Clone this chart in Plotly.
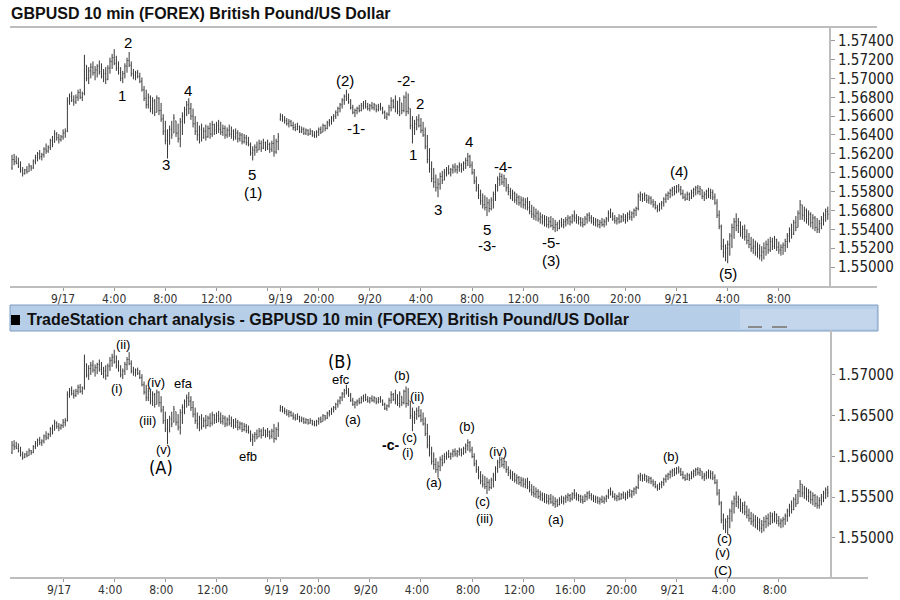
import pandas as pd
import plotly.graph_objects as go

TITLE = "GBPUSD 10 min (FOREX) British Pound/US Dollar"
HEADER = "TradeStation chart analysis - GBPUSD 10 min (FOREX) British Pound/US Dollar"
BASE = 1.5  # price lists below are in pips above 1.5000

# ---- Session 1: 2010-09-16 20:00 .. 2010-09-17 16:50 (10-minute bars) ----
s1_open = [605,614,612,610,607,602,599,603,601,607, 605,612,616,620,617,619,625,623,627,634,
           632,641,637,635,638,642,644,676,681,677, 675,680,685,680,684,714,700,708,712,706,
           709,713,707,702,705,699,711,718,722,716, 711,706,700,705,713,719,714,705,703,706,
           702,697,688,679,672,680,668,676,664,679, 666,657,644,634,630,646,642,655,642,636,
           654,660,667,672,668,660,652,644,640,646, 637,644,638,647,641,651,645,650,646,643,
           647,640,645,641,644,638,642,636,640,633, 637,632,630,621,624,627,624,631,626,632,
           627,630,625,631,622,633]
s1_high = [619,620,618,616,612,606,604,607,610,608, 614,619,622,624,621,627,631,629,636,639,
           645,643,641,640,646,647,680,684,686,682, 683,688,689,686,725,714,712,716,718,713,
           715,719,716,710,712,714,722,726,731,724, 718,712,708,716,722,728,718,710,708,709,
           706,701,692,688,684,682,680,678,682,680, 674,662,655,646,650,655,662,655,652,658,
           664,670,676,679,674,668,660,654,650,652, 648,651,650,653,655,652,654,656,654,651,
           650,648,651,649,646,647,645,643,642,641, 640,638,632,628,630,633,635,634,636,633,
           635,632,634,640,636,642]
s1_low = [603,608,609,605,600,596,598,599,601,602, 604,609,612,614,613,616,620,621,624,627,
          632,634,631,633,635,637,643,672,675,671, 673,676,678,676,682,697,694,700,703,698,
          701,704,700,696,694,698,705,710,714,708, 704,697,695,700,706,712,702,699,698,700,
          695,686,676,668,668,664,662,660,664,661, 654,640,630,615,630,636,642,638,632,627,
          640,652,660,662,656,648,640,634,631,633, 636,634,637,636,638,640,641,642,640,639,
          636,637,638,636,634,635,632,633,630,631, 629,628,618,613,618,621,624,622,625,623,
          624,621,622,617,620,624]
s1_close = [614,612,610,607,602,599,603,601,607,605, 612,616,620,617,619,625,623,627,634,630,
            641,637,635,638,642,644,676,681,677,675, 680,685,680,684,718,700,708,712,706,709,
            713,707,702,705,699,711,718,722,716,711, 706,700,705,713,719,714,705,703,706,702,
            697,688,679,672,680,668,676,664,679,666, 657,644,634,628,646,640,658,642,636,654,
            660,667,672,668,660,652,644,640,646,637, 644,638,647,641,651,645,650,646,643,647,
            640,645,641,644,638,642,636,640,633,637, 632,630,621,624,627,624,631,626,632,627,
            630,625,631,622,633,638]

# ---- Session 2: 2010-09-19 17:00 .. 2010-09-21 11:50 (10-minute bars) ----
s2_open = [657,660,656,655,652,654,650,648,646,649, 644,646,642,645,641,644,640,639,643,646,
           643,650,647,653,655,658,660,664,668,672, 677,681,679,675,669,664,666,668,666,671,
           673,670,668,671,669,672,667,670,668,664, 659,662,669,676,670,676,665,674,666,680,
           665,668,650,648,652,656,650,645,640,628, 614,604,594,590,584,588,596,592,600,603,
           600,603,606,603,606,608,604,610,613,617, 608,600,591,584,576,570,566,563,568,562,
           571,577,585,593,596,590,594,584,580,576, 578,571,574,568,571,566,569,563,559,556,
           554,557,551,553,548,550,545,548,544,542, 545,541,547,545,548,550,552,548,554,552,
           549,551,547,545,551,555,552,549,547,549, 545,547,545,548,551,557,554,551,549,551,
           548,553,550,553,556,553,557,560,562,575, 577,573,576,571,573,569,566,563,561,566,
           568,572,576,578,581,583,580,585,582,578, 574,572,577,573,579,582,584,580,582,575,
           577,580,576,579,574,568,555,543,522,515, 520,524,533,542,548,544,548,536,540,532,
           528,524,520,522,515,519,512,516,520,524, 518,527,522,529,521,518,521,523,527,533,
           539,535,547,542,557,566,555,560,551,556, 547,552,542,540,546,550,555,559]
s2_high = [663,662,660,658,657,656,654,652,653,650, 649,648,647,646,647,645,644,645,648,649,
           652,651,655,657,660,662,666,670,674,679, 683,688,684,678,672,668,670,672,674,676,
           677,674,673,675,674,672,673,674,670,666, 664,672,680,678,682,676,680,674,682,686,
           684,668,660,656,660,662,658,654,648,640, 626,612,605,598,594,600,602,604,606,608,
           605,609,610,608,611,610,612,616,621,619, 612,604,596,588,582,578,576,574,572,574,
           580,588,596,600,599,598,594,588,584,582, 580,578,576,575,574,573,574,570,566,564,
           562,560,558,556,555,554,553,554,552,550, 548,550,552,551,553,555,554,556,560,556,
           554,553,552,554,557,558,555,553,552,551, 550,552,551,553,560,562,558,555,553,556,
           555,557,556,558,560,559,562,564,578,580, 578,579,577,576,575,572,570,566,568,570,
           574,578,580,583,585,586,587,588,586,582, 578,580,579,582,584,586,587,586,582,580,
           582,584,583,582,578,572,560,545,530,524, 528,536,546,552,557,552,548,544,545,540,
           536,532,530,528,526,524,522,526,528,530, 532,531,533,530,527,524,526,530,536,542,
           546,550,554,560,571,566,564,562,560,558, 556,554,552,550,554,558,562,564]
s2_low = [655,654,652,650,648,649,645,644,645,642, 642,640,640,639,640,638,637,637,639,641,
          643,644,646,649,651,654,657,660,664,668, 672,676,673,667,662,659,662,664,665,667,
          668,666,665,667,666,664,665,666,662,657, 656,660,665,668,664,662,660,662,664,660,
          662,646,631,640,645,648,642,638,625,610, 600,590,584,580,574,582,588,592,596,598,
          596,599,600,599,601,600,602,604,607,605, 598,588,580,572,566,562,560,554,558,560,
          562,570,580,586,587,585,580,576,572,570, 568,566,565,563,562,561,560,556,552,550,
          549,548,546,545,543,542,541,542,539,537, 538,540,542,541,543,545,544,546,548,546,
          545,543,542,544,546,548,546,544,543,542, 541,543,542,544,548,552,549,546,545,546,
          547,548,546,548,550,549,552,554,560,570, 569,570,568,567,566,563,561,558,559,561,
          564,568,571,573,575,576,578,579,576,572, 570,571,570,572,574,576,577,576,572,570,
          572,573,572,571,566,552,540,518,510,506, 504,512,520,530,538,536,532,530,528,524,
          520,516,514,512,510,508,506,508,512,514, 516,518,519,517,514,512,513,516,520,526,
          530,534,538,542,550,550,548,546,544,542, 540,538,536,536,540,544,548,550]
s2_close = [660,656,655,652,654,650,648,646,649,644, 646,642,645,641,644,640,639,643,646,643,
            650,647,653,655,658,660,664,668,672,677, 681,679,675,669,664,666,668,666,671,673,
            670,668,671,669,672,667,670,668,664,659, 662,669,676,670,678,665,677,666,680,665,
            669,650,648,652,656,650,645,640,628,614, 604,594,590,584,588,596,592,600,603,600,
            603,606,603,606,608,604,610,613,617,608, 600,591,584,576,570,566,563,568,562,571,
            577,585,593,596,590,594,584,580,576,578, 571,574,568,571,566,569,563,559,556,554,
            557,551,553,548,550,545,548,544,542,545, 541,547,545,548,550,552,548,554,552,549,
            551,547,545,551,555,552,549,547,549,545, 547,545,548,551,557,554,551,549,551,548,
            553,550,553,556,553,557,560,562,575,577, 573,576,571,573,569,566,563,561,566,568,
            572,576,578,581,583,580,585,582,578,574, 572,577,573,579,582,584,580,583,575,577,
            580,576,579,574,568,555,543,522,515,520, 524,533,542,548,544,548,536,540,532,528,
            524,520,522,515,519,512,516,520,524,518, 527,522,529,521,518,521,523,527,533,539,
            535,547,542,557,566,555,560,551,556,547, 552,542,540,546,550,555,559,556]

# ---- time axis labels ----
tick_times = ["2010-09-17 00:00", "2010-09-17 04:00", "2010-09-17 08:00", "2010-09-17 12:00",
              "2010-09-17 16:00", "2010-09-19 17:00", "2010-09-19 20:00", "2010-09-20 00:00",
              "2010-09-20 04:00", "2010-09-20 08:00", "2010-09-20 12:00", "2010-09-20 16:00",
              "2010-09-20 20:00", "2010-09-21 00:00", "2010-09-21 04:00", "2010-09-21 08:00"]
tick_labels = ["9/17", "4:00", "8:00", "12:00", "", "9/19", "20:00", "9/20",
               "4:00", "8:00", "12:00", "16:00", "20:00", "9/21", "4:00", "8:00"]

top_ytick_vals = [1.550, 1.552, 1.554, 1.556, 1.558, 1.560, 1.562, 1.564, 1.566, 1.568, 1.570, 1.572, 1.574]
top_ytick_text = ["1.55000", "1.55200", "1.55400", "1.56800", "1.55800", "1.56000", "1.56200",
                  "1.56400", "1.56600", "1.56800", "1.57000", "1.57200", "1.57400"]
bot_ytick_vals = [1.550, 1.555, 1.560, 1.565, 1.570]
bot_ytick_text = ["1.55000", "1.55500", "1.56000", "1.56500", "1.57000"]

# wave labels: (text, bar index, price)
top_waves = [("2", 54.5, 1.57376), ("1", 51.6, 1.56814), ("3", 72.3, 1.56092), ("4", 82.6, 1.56877),
             ("5", 112.7, 1.55986), ("(1)", 113.1, 1.55785), ("(2)", 156.3, 1.56973),
             ("-1-", 161.5, 1.56474), ("-2-", 185.0, 1.56973), ("2", 191.5, 1.56729),
             ("1", 188.3, 1.56198), ("3", 200.0, 1.55605), ("4", 214.6, 1.56326),
             ("-4-", 230.5, 1.56071), ("5", 223.0, 1.55403), ("-3-", 223.0, 1.55223),
             ("-5-", 253.0, 1.55255), ("(3)", 253.0, 1.55064), ("(4)", 313.1, 1.56008),
             ("(5)", 336.2, 1.54926)]
bot_waves = [("(ii)", 52.1, 1.57380), ("(i)", 49.3, 1.56840), ("(iv)", 67.6, 1.56914),
             ("efa", 80.3, 1.56890), ("(iii)", 63.4, 1.56436), ("(v)", 70.9, 1.56080),
             ("efb", 110.8, 1.55994), ("efc", 154.5, 1.56945), ("(a)", 160.1, 1.56460),
             ("(b)", 183.1, 1.56988), ("(ii)", 190.1, 1.56730), ("(c)", 186.4, 1.56239),
             ("(i)", 185.9, 1.56055), ("(a)", 198.1, 1.55675), ("(b)", 213.6, 1.56374),
             ("(iv)", 228.2, 1.56067), ("(c)", 221.1, 1.55442), ("(iii)", 221.6, 1.55245),
             ("(a)", 255.4, 1.55233), ("(b)", 309.4, 1.55994), ("(c)", 334.3, 1.54988),
             ("(v)", 333.8, 1.54816), ("(C)", 333.8, 1.54607)]
bot_big = [("(A)", 70.0, 1.55859), ("(B)", 154.0, 1.57165)]
bot_bold = [("-c-", 177.5, 1.56141)]

# ---------------------------------------------------------------
times = pd.date_range("2010-09-16 20:00", "2010-09-17 16:50", freq="10min").append(
    pd.date_range("2010-09-19 17:00", "2010-09-21 11:50", freq="10min"))
idx = list(range(len(times)))
to_price = lambda v: [BASE + p / 10000 for p in v]
o = to_price(s1_open + s2_open)
h = to_price(s1_high + s2_high)
l = to_price(s1_low + s2_low)
c = to_price(s1_close + s2_close)
tickvals = [times.get_loc(pd.Timestamp(t)) for t in tick_times]

NARROW = "Liberation Sans Narrow, Arial Narrow, DejaVu Sans Condensed, sans-serif"
SANS = "Liberation Sans, Arial, sans-serif"
BAR = "#383838"
INK = "#000000"

fig = go.Figure()
for xa, ya in (("x", "y"), ("x2", "y2")):
    fig.add_trace(go.Ohlc(x=idx, open=o, high=h, low=l, close=c, xaxis=xa, yaxis=ya,
                          increasing=dict(line=dict(color=BAR, width=1)),
                          decreasing=dict(line=dict(color=BAR, width=1)),
                          tickwidth=0.3, hoverinfo="skip", showlegend=False))

W, H = 900, 600
PX = lambda x: x / W
PY = lambda y: 1 - y / H
XR = [-0.94, 384.04]

common_x = dict(range=XR, tickmode="array", tickvals=tickvals, ticktext=tick_labels,
                ticks="outside", ticklen=3, tickcolor="#9a9a9a", showgrid=False,
                zeroline=False, showline=False, rangeslider=dict(visible=False),
                ticklabelstandoff=-2,
                tickfont=dict(family=NARROW, size=12, color="#333"))
common_y = dict(side="right", tickmode="array", ticks="outside", ticklen=4, tickcolor="#9a9a9a",
                showgrid=False, zeroline=False, showline=False,
                tickfont=dict(family=NARROW, size=15, color="#222"))

fig.update_layout(
    width=W, height=H, margin=dict(l=0, r=0, t=0, b=0),
    paper_bgcolor="white", plot_bgcolor="white", showlegend=False,
    xaxis=dict(domain=[PX(10), PX(830)], anchor="y", **common_x),
    yaxis=dict(domain=[PY(287), PY(27)], anchor="x", range=[1.54788, 1.57545],
               tickvals=top_ytick_vals, ticktext=top_ytick_text, **common_y),
    xaxis2=dict(domain=[PX(10), PX(830)], anchor="y2", ticklabelshift=-4, **common_x),
    yaxis2=dict(domain=[PY(578), PY(330)], anchor="x2", range=[1.54509, 1.57552],
                tickvals=bot_ytick_vals, ticktext=bot_ytick_text, **common_y),
)

def pline(x0, y0, x1, y1, color="#bdbdbd", width=2):
    fig.add_shape(type="line", xref="paper", yref="paper", x0=PX(x0), y0=PY(y0),
                  x1=PX(x1), y1=PY(y1), line=dict(color=color, width=width))

def prect(x0, y0, x1, y1, fill, line_color=None, lw=0):
    fig.add_shape(type="rect", xref="paper", yref="paper", x0=PX(x0), y0=PY(y0),
                  x1=PX(x1), y1=PY(y1), fillcolor=fill,
                  line=dict(color=line_color or fill, width=lw), layer="below")

# top panel frame
pline(10, 27, 877, 27)
pline(10, 287, 877, 287)
pline(830, 27, 830, 287)
# bottom panel header bar + frame
prect(10, 305, 878, 331, "#b7cee8", "#7f9cc0", 1)
prect(740, 309, 876, 329, "#c3d6ec")
pline(748, 327, 762, 327, "#8a8a8a", 2)
pline(772, 327, 787, 327, "#8a8a8a", 2)
prect(11, 315, 20, 325, "#000000")
pline(10, 578, 868, 578)
pline(831, 330, 831, 578)

fig.add_annotation(xref="paper", yref="paper", x=PX(9), y=PY(13), xanchor="left",
                   yanchor="middle", showarrow=False, text="<b>" + TITLE + "</b>",
                   font=dict(family=SANS, size=16, color="#111"))
fig.add_annotation(xref="paper", yref="paper", x=PX(25), y=PY(319), xanchor="left",
                   yanchor="middle", showarrow=False, text="<b>" + HEADER + "</b>",
                   font=dict(family=SANS, size=16, color="#111"))

for t, xi, yv in top_waves:
    fig.add_annotation(xref="x", yref="y", x=xi, y=yv, text=t, showarrow=False,
                       font=dict(family=SANS, size=15, color=INK))
for t, xi, yv in bot_waves:
    fig.add_annotation(xref="x2", yref="y2", x=xi, y=yv, text=t, showarrow=False,
                       font=dict(family=SANS, size=13, color=INK))
for t, xi, yv in bot_big:
    fig.add_annotation(xref="x2", yref="y2", x=xi, y=yv, text=t, showarrow=False,
                       font=dict(family=NARROW, size=18, color=INK))
for t, xi, yv in bot_bold:
    fig.add_annotation(xref="x2", yref="y2", x=xi, y=yv, text="<b>" + t + "</b>", showarrow=False,
                       font=dict(family=SANS, size=14, color=INK))

fig.write_html("out.html")
